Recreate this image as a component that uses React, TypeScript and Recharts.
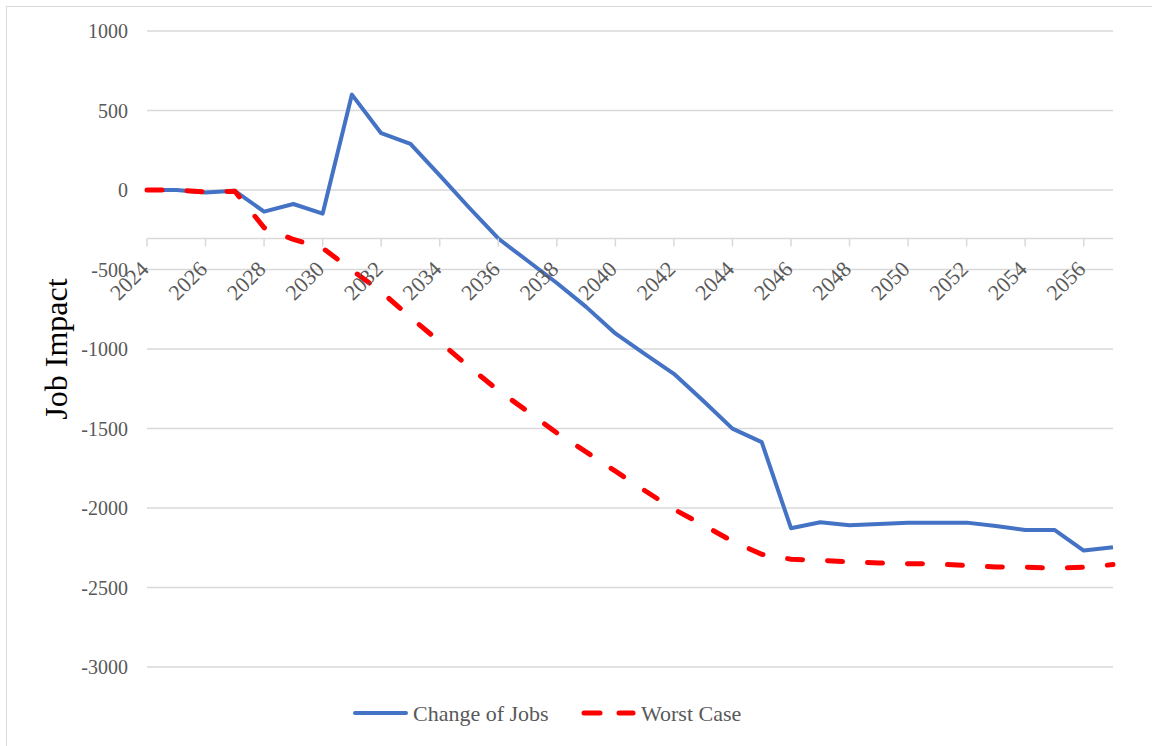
import React from 'react';
import { LineChart, Line, XAxis, YAxis, CartesianGrid, ReferenceLine, ReferenceDot, Label } from 'recharts';

const years = [2024, 2025, 2026, 2027, 2028, 2029, 2030, 2031, 2032, 2033, 2034, 2035, 2036, 2037, 2038, 2039, 2040, 2041, 2042, 2043, 2044, 2045, 2046, 2047, 2048, 2049, 2050, 2051, 2052, 2053, 2054, 2055, 2056, 2057];
const changeOfJobs = [0, 0, -15, -5, -136, -88, -149, 600, 357, 290, 92, -110, -305, -445, -585, -735, -902, -1030, -1156, -1325, -1501, -1586, -2127, -2090, -2108, -2100, -2092, -2092, -2092, -2113, -2138, -2138, -2268, -2247];
const worstCase = [0, 0, -12, -8, -237, -311, -365, -504, -640, -800, -955, -1112, -1260, -1392, -1528, -1647, -1768, -1890, -2008, -2107, -2209, -2291, -2322, -2329, -2339, -2346, -2350, -2352, -2362, -2371, -2372, -2379, -2373, -2356];
const yTicks = [-3000, -2500, -2000, -1500, -1000, -500, 0, 500, 1000];
const xLabelYears = [2024, 2026, 2028, 2030, 2032, 2034, 2036, 2038, 2040, 2042, 2044, 2046, 2048, 2050, 2052, 2054, 2056];
const axisCrossValue = -305;
const seriesNames = ['Change of Jobs', 'Worst Case'];
const yAxisTitle = 'Job Impact';

const data = years.map((year, i) => ({ year, change: changeOfJobs[i], worst: worstCase[i] }));

const FONT = '"Liberation Serif", "Times New Roman", serif';
const GRID = '#d9d9d9';
const TEXT = '#595959';
const BLUE = '#4472C4';
const RED = '#FF0000';

const makeTick = (label: string) => (p: any) => {
  const { cx, cy } = p;
  const tx = cx + 3;
  const ty = cy + 32;
  return (
    <g>
      <line x1={cx} y1={cy} x2={cx} y2={cy + 8} stroke={GRID} strokeWidth={1.5} />
      <text x={tx} y={ty} transform={`rotate(-45, ${tx}, ${ty})`} textAnchor="end" fill={TEXT} fontSize={22} fontFamily={FONT}>
        {label}
      </text>
    </g>
  );
};

export default function App() {
  return (
    <div style={{ position: 'fixed', left: 0, top: 0, width: 1152, height: 746, overflow: 'hidden', background: '#fff' }}>
      <div style={{ position: 'absolute', left: 6, top: 6, width: 1200, height: 800, border: `1.5px solid ${GRID}` }} />
      <div style={{ position: 'absolute', left: 0, top: 0 }}>
        <LineChart width={1152} height={746} data={data} margin={{ top: 31, right: 39, bottom: 79, left: 0 }}>
          <CartesianGrid vertical={false} stroke={GRID} strokeWidth={1.5} />
          <XAxis dataKey="year" type="number" domain={[2024, 2057]} hide />
          <YAxis
            type="number"
            domain={[-3000, 1000]}
            ticks={yTicks}
            width={147}
            axisLine={false}
            tickLine={false}
            tickSize={0}
            tickMargin={19}
            tick={{ fill: TEXT, fontSize: 20, fontFamily: FONT }}
            interval={0}
          >
            <Label value={yAxisTitle} angle={-90} position="center" dx={-18} style={{ fontSize: 32, fill: '#000', fontFamily: FONT }} />
          </YAxis>
          <ReferenceLine y={axisCrossValue} stroke={GRID} strokeWidth={1.5} />
          {xLabelYears.map((y) => (
            <ReferenceDot key={y} x={y} y={axisCrossValue} r={0} shape={makeTick(String(y))} />
          ))}
          <Line type="linear" dataKey="change" name={seriesNames[0]} stroke={BLUE} strokeWidth={4} dot={false} isAnimationActive={false} strokeLinejoin="round" />
          <Line type="linear" dataKey="worst" name={seriesNames[1]} stroke={RED} strokeWidth={5} strokeDasharray="15 25" strokeLinecap="round" dot={false} isAnimationActive={false} />
        </LineChart>
      </div>
      <svg style={{ position: 'absolute', left: 0, top: 0, pointerEvents: 'none' }} width={1152} height={746}>
        <line x1={355} x2={406} y1={713} y2={713} stroke={BLUE} strokeWidth={4} strokeLinecap="round" />
        <text x={413} y={721} fontSize={22} fill={TEXT} fontFamily={FONT}>{seriesNames[0]}</text>
        <line x1={584} x2={600} y1={713} y2={713} stroke={RED} strokeWidth={5} strokeLinecap="round" />
        <line x1={619} x2={633} y1={713} y2={713} stroke={RED} strokeWidth={5} strokeLinecap="round" />
        <text x={641} y={721} fontSize={22} fill={TEXT} fontFamily={FONT}>{seriesNames[1]}</text>
      </svg>
    </div>
  );
}
